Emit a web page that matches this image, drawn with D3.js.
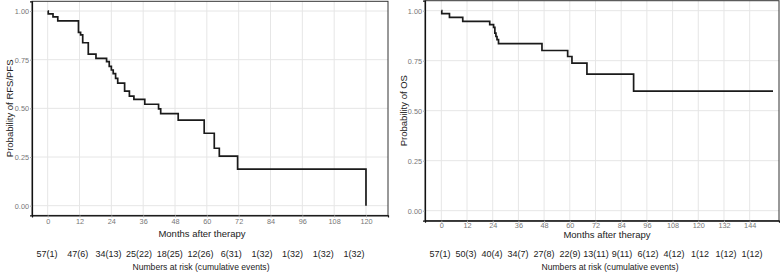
<!DOCTYPE html>
<html><head><meta charset="utf-8">
<script src="https://cdn.jsdelivr.net/npm/d3@7"></script>
<style>body{margin:0;background:#fff}svg{display:block;font-family:"Liberation Sans",Arial,sans-serif}</style>
</head><body><svg id="c" width="780" height="274"></svg>
<script>
// ---- data ----
const pfsTimes = [0, 0.2, 2.0, 3.8, 11.6, 12.4, 13.2, 15.3, 18.2, 22.2, 23.2, 24.0, 24.7, 25.6, 26.4, 29.0, 30.8, 32.5, 36.6, 41.8, 42.6, 49.2, 59.0, 62.8, 64.7, 71.6, 120.0];
const pfsSurv  = [1.000, 0.985, 0.970, 0.949, 0.890, 0.877, 0.837, 0.779, 0.757, 0.740, 0.716, 0.697, 0.678, 0.654, 0.630, 0.589, 0.563, 0.546, 0.521, 0.497, 0.473, 0.440, 0.372, 0.295, 0.255, 0.188, 0.000];
const osTimes = [0, 0.2, 3.8, 10.0, 22.6, 24.4, 25.0, 25.5, 26.0, 26.7, 47.0, 59.0, 61.0, 68.0, 89.8];
const osSurv  = [1.000, 0.985, 0.967, 0.947, 0.930, 0.917, 0.888, 0.871, 0.855, 0.835, 0.801, 0.771, 0.738, 0.683, 0.598];
const osEnd = 154.9;
const yTicks = [0, 0.25, 0.5, 0.75, 1.0];
const pfsXTicks = [0, 12, 24, 36, 48, 60, 72, 84, 96, 108, 120];
const osXTicks = [0, 12, 24, 36, 48, 60, 72, 84, 96, 108, 120, 132, 144];
const pfsRisk = ["57(1)", "47(6)", "34(13)", "25(22)", "18(25)", "12(26)", "6(31)", "1(32)", "1(32)", "1(32)", "1(32)"];
const osRisk = ["57(1)", "50(3)", "40(4)", "34(7)", "27(8)", "22(9)", "13(11)", "9(11)", "6(12)", "4(12)", "1(12", "1(12)", "1(12)"];

const svg = d3.select("#c");

function panel(cfg) {
  const x = d3.scaleLinear().domain(cfg.xDomain).range([cfg.left, cfg.right]);
  const y = d3.scaleLinear().domain([-0.05, 1.05]).range([cfg.bottom, cfg.top]);
  const g = svg.append("g");
  // grid
  g.selectAll(".gx").data(cfg.xTicks).join("line")
    .attr("x1", d => x(d)).attr("x2", d => x(d)).attr("y1", cfg.top).attr("y2", cfg.bottom)
    .attr("stroke", "#e6e6e6").attr("stroke-width", 1);
  g.selectAll(".gy").data(yTicks).join("line")
    .attr("y1", d => y(d)).attr("y2", d => y(d)).attr("x1", cfg.left).attr("x2", cfg.right)
    .attr("stroke", "#e6e6e6").attr("stroke-width", 1);
  // frame
  g.append("rect").attr("x", cfg.left).attr("y", cfg.top)
    .attr("width", cfg.right - cfg.left).attr("height", cfg.bottom - cfg.top)
    .attr("fill", "none").attr("stroke", "#333").attr("stroke-width", 1);
  // axes
  const ax = g.append("g").attr("transform", `translate(0,${cfg.bottom})`)
    .call(d3.axisBottom(x).tickValues(cfg.xTicks).tickSize(2).tickPadding(cfg.xPad));
  const ay = g.append("g").attr("transform", `translate(${cfg.left},0)`)
    .call(d3.axisLeft(y).tickValues(yTicks).tickSize(2).tickPadding(1).tickFormat(d3.format(".2f")));
  [ax, ay].forEach(a => {
    a.select(".domain").attr("stroke", "#111").attr("stroke-width", 1.2);
    a.selectAll(".tick line").attr("stroke", "#aaa");
    a.selectAll(".tick text").attr("fill", "#777").attr("font-size", 7.3)
      .attr("font-family", "'Liberation Sans',Arial,sans-serif");
  });
  // curve
  const pts = cfg.times.map((t, i) => [t, cfg.surv[i]]);
  if (cfg.end !== undefined) pts.push([cfg.end, cfg.surv[cfg.surv.length - 1]]);
  const line = d3.line().x(d => x(d[0])).y(d => y(d[1])).curve(d3.curveStepAfter);
  g.append("path").attr("d", line(pts)).attr("fill", "none")
    .attr("stroke", "#1a1a1a").attr("stroke-width", 1.7);
  // titles
  g.append("text").attr("transform", `translate(${cfg.yTitleX},${(cfg.top + cfg.bottom) / 2}) rotate(-90)`)
    .attr("text-anchor", "middle").attr("dominant-baseline", "middle")
    .attr("font-size", 9.5).attr("fill", "#222").text(cfg.yTitle);
  g.append("text").attr("x", cfg.xTitleX).attr("y", cfg.xTitleY)
    .attr("text-anchor", "middle").attr("dominant-baseline", "middle")
    .attr("font-size", 9.5).attr("fill", "#222").text("Months after therapy");
  // risk table
  const rs = d3.scalePoint().domain(d3.range(cfg.risk.length)).range(cfg.riskRange);
  g.selectAll(".risk").data(cfg.risk).join("text")
    .attr("x", (d, i) => rs(i)).attr("y", 255)
    .attr("text-anchor", "middle").attr("dominant-baseline", "middle")
    .attr("font-size", 9).attr("fill", "#222").text(d => d);
  g.append("text").attr("x", cfg.riskTitleX).attr("y", 267.5)
    .attr("text-anchor", "middle").attr("dominant-baseline", "middle")
    .attr("font-size", 8.6).attr("fill", "#222").text("Numbers at risk (cumulative events)");
}

panel({
  left: 32, right: 388, top: 1.3, bottom: 215.4,
  xDomain: [-5.92, 128.3], xTicks: pfsXTicks, xPad: 1,
  times: pfsTimes, surv: pfsSurv,
  yTitle: "Probability of RFS/PFS", yTitleX: 10,
  xTitleX: 202, xTitleY: 234,
  risk: pfsRisk, riskRange: [47, 354], riskTitleX: 201
});
panel({
  left: 425, right: 779, top: 0.7, bottom: 220.7,
  xDomain: [-7.63, 157.7], xTicks: osXTicks, xPad: 0,
  times: osTimes, surv: osSurv, end: osEnd,
  yTitle: "Probability of OS", yTitleX: 404,
  xTitleX: 607, xTitleY: 235.5,
  risk: osRisk, riskRange: [440, 752], riskTitleX: 610
});
</script></body></html>
